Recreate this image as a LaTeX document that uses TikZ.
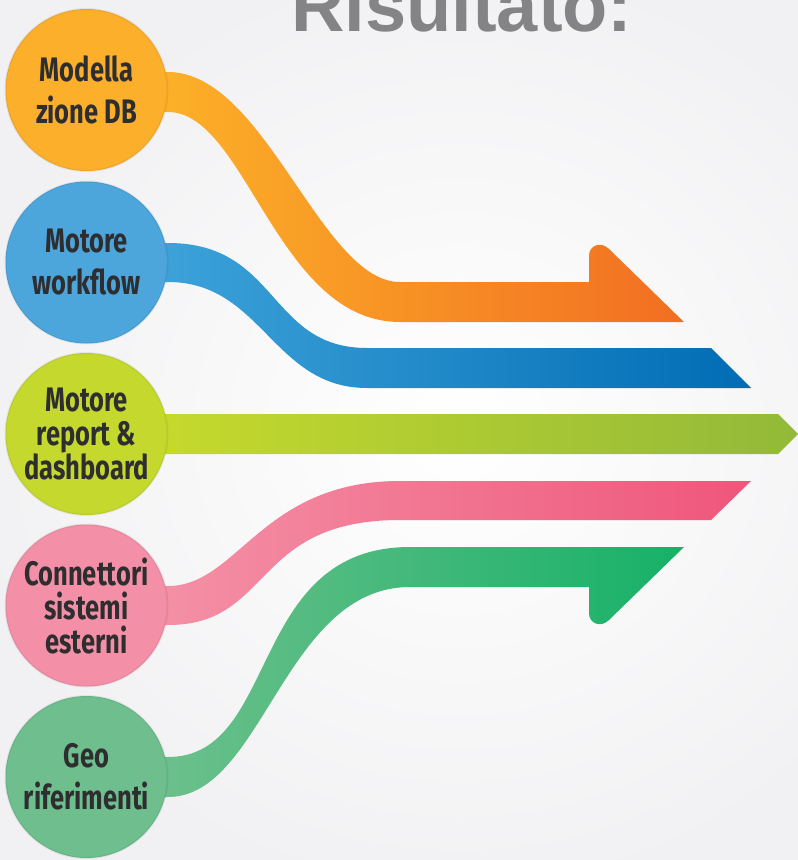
\documentclass[tikz,border=0pt]{standalone}
\usepackage{fontspec}
\newfontfamily\lblfont{Fira Sans}[FakeStretch=0.75]
\newfontfamily\titlefont{Liberation Sans}
\definecolor{bgout}{RGB}{241,241,243}
\definecolor{titlegray}{RGB}{132,132,134}
\definecolor{txt}{RGB}{46,46,48}
\definecolor{oC}{RGB}{251,175,43}
\definecolor{oL}{RGB}{252,178,40}
\definecolor{oR}{RGB}{242,110,34}
\definecolor{bC}{RGB}{76,165,219}
\definecolor{bL}{RGB}{62,163,218}
\definecolor{bR}{RGB}{0,108,180}
\definecolor{gC}{RGB}{196,216,46}
\definecolor{gL}{RGB}{198,218,44}
\definecolor{gR}{RGB}{146,185,57}
\definecolor{pC}{RGB}{243,143,166}
\definecolor{pL}{RGB}{244,145,166}
\definecolor{pR}{RGB}{239,86,123}
\definecolor{eC}{RGB}{110,190,142}
\definecolor{eL}{RGB}{110,192,140}
\definecolor{eR}{RGB}{22,177,103}
\tikzset{
  circ/.style={circle, minimum size=162pt, inner sep=0pt, align=center,
    text=txt, draw=black, draw opacity=0.06, line width=2pt},
  two/.style={font=\lblfont\bfseries\fontsize{34}{42}\selectfont},
  three/.style={font=\lblfont\bfseries\fontsize{34}{34}\selectfont}
}
\begin{document}
\begin{tikzpicture}[x=1pt,y=-1pt]
\useasboundingbox (0,0) rectangle (798,860);
\clip (0,0) rectangle (798,860);
\shade[inner color=white, outer color=bgout] (-40,-40) rectangle (960,900);
\node[font=\titlefont\bfseries\fontsize{74}{74}\selectfont, text=titlegray, anchor=base] (title) at (462,31) {Risultato:};
% ribbons
\shade[left color=oL, right color=oR] (150,72) -- (168,72) .. controls (265,72) and (321,282) .. (400,282) -- (589,282) -- (589,256) .. controls (589,245) and (601,241) .. (609,249) -- (684,322) -- (400,322) .. controls (277,322) and (246,112) .. (168,112) -- (150,112) -- cycle;
\shade[left color=bL, right color=bR] (150,243) -- (168,243) .. controls (279,243) and (268,348) .. (367,348) -- (711,348) -- (751,388) -- (367,388) .. controls (273,388) and (262,282) .. (168,282) -- (150,282) -- cycle;
\shade[left color=gL, right color=gR] (150,414) -- (778,414) -- (798,434) -- (778,454) -- (150,454) -- cycle;
\shade[left color=pL, right color=pR] (150,586) -- (168,586) .. controls (238,586) and (261,481) .. (400,481) -- (751,481) -- (711,520) -- (400,520) .. controls (251,520) and (273,625) .. (168,625) -- (150,625) -- cycle;
\shade[left color=eL, right color=eR] (150,757) -- (168,757) .. controls (280,757) and (247,547) .. (410,547) -- (684,547) -- (609,620) .. controls (601,628) and (589,624) .. (589,613) -- (589,587) -- (410,587) .. controls (284,587) and (263,797) .. (168,797) -- (150,797) -- cycle;
% circles
\node[circ, two, fill=oC] (c1) at (86.5,90) {Modella\\zione DB};
\node[circ, two, fill=bC] (c2) at (86.5,262.5) {Motore\\workflow};
\node[circ, three, fill=gC] (c3) at (86.5,434) {Motore\\report \&\\dashboard};
\node[circ, three, fill=pC] (c4) at (86.5,605.5) {Connettori\\sistemi\\esterni};
\node[circ, two, fill=eC] (c5) at (86.5,777) {Geo\\riferimenti};
\end{tikzpicture}
\end{document}
